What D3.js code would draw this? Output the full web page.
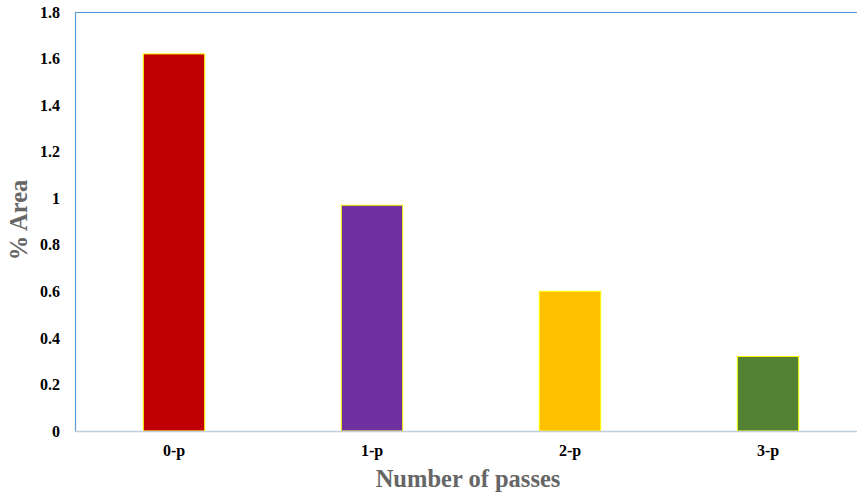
<!DOCTYPE html>
<html>
<head>
<meta charset="utf-8">
<script src="https://cdn.jsdelivr.net/npm/d3@7"></script>
<style>
  html, body { margin: 0; padding: 0; background: #fff; }
  svg { display: block; }
</style>
</head>
<body>
<svg id="chart" width="857" height="495"></svg>
<script>
// Percentage area by number of passes
const categories = ["0-p", "1-p", "2-p", "3-p"];
const values = [1.62, 0.97, 0.60, 0.32];
const barColors = ["#c00000", "#7030a0", "#ffc000", "#548235"];
const yTicks = [0, 0.2, 0.4, 0.6, 0.8, 1, 1.2, 1.4, 1.6, 1.8];

const svg = d3.select("#chart");
const plot = { left: 75, top: 12, bottom: 431, right: 867 };

const x = d3.scaleBand()
  .domain(categories)
  .range([plot.left, plot.right])
  .paddingInner(0.69)
  .paddingOuter(0.345);

const y = d3.scaleLinear()
  .domain([0, 1.8])
  .range([plot.bottom, plot.top]);

const serif = "'Liberation Serif', 'Times New Roman', serif";

// plot frame: top and left edges
svg.append("line")
  .attr("x1", plot.left).attr("x2", plot.right)
  .attr("y1", plot.top + 0.5).attr("y2", plot.top + 0.5)
  .attr("stroke", "#5b9bd5").attr("stroke-width", 1.2);
svg.append("line")
  .attr("x1", plot.left + 0.5).attr("x2", plot.left + 0.5)
  .attr("y1", plot.top).attr("y2", plot.bottom)
  .attr("stroke", "#5b9bd5").attr("stroke-width", 1.2);

// bars
svg.append("g")
  .selectAll("rect")
  .data(categories)
  .join("rect")
  .attr("x", d => x(d))
  .attr("width", x.bandwidth())
  .attr("y", (d, i) => y(values[i]))
  .attr("height", (d, i) => y(0) - y(values[i]))
  .attr("fill", (d, i) => barColors[i])
  .attr("stroke", "#ffff00")
  .attr("stroke-width", 1);

// x baseline
svg.append("line")
  .attr("x1", plot.left).attr("x2", plot.right)
  .attr("y1", plot.bottom + 0.5).attr("y2", plot.bottom + 0.5)
  .attr("stroke", "#c3cedb").attr("stroke-width", 1.5);

// y axis labels
const yAxis = d3.axisLeft(y)
  .tickValues(yTicks)
  .tickSize(0)
  .tickPadding(15)
  .tickFormat(d => d3.format("")(+d.toFixed(1)));
const gy = svg.append("g")
  .attr("transform", `translate(${plot.left},0)`)
  .call(yAxis);
gy.select(".domain").remove();
gy.selectAll("text")
  .attr("font-family", serif)
  .attr("font-weight", "bold")
  .attr("font-size", 16)
  .attr("fill", "#000");

// x axis labels
const xAxis = d3.axisBottom(x).tickSize(0).tickPadding(14);
const gx = svg.append("g")
  .attr("transform", `translate(0,${plot.bottom})`)
  .call(xAxis);
gx.select(".domain").remove();
gx.selectAll("text")
  .attr("font-family", serif)
  .attr("font-weight", "bold")
  .attr("font-size", 16)
  .attr("fill", "#000");

// axis titles
svg.append("text")
  .attr("x", 468).attr("y", 487)
  .attr("text-anchor", "middle")
  .attr("font-family", serif)
  .attr("font-weight", "bold")
  .attr("font-size", 24.5)
  .attr("fill", "#666666")
  .text("Number of passes");

svg.append("text")
  .attr("transform", "translate(27,220) rotate(-90)")
  .attr("text-anchor", "middle")
  .attr("font-family", serif)
  .attr("font-weight", "bold")
  .attr("font-size", 24.5)
  .attr("fill", "#666666")
  .text("% Area");
</script>
</body>
</html>
